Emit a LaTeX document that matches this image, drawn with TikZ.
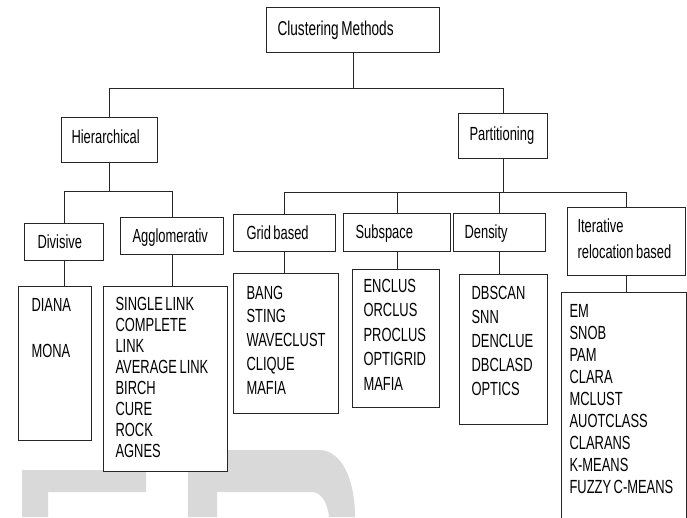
\documentclass[tikz,border=0pt]{standalone}
\usepackage{fontspec}
\setmainfont{Liberation Sans}[FakeStretch=0.68, WordSpace=0.7]
\usetikzlibrary{positioning,calc}

\begin{document}
\begin{tikzpicture}[
    x=1pt, y=-1pt,
    methodbox/.style={draw=black!85, line width=1.1pt, fill=white, anchor=north west, align=flush left, inner ysep=0pt, text=black, font={\fontsize{19}{23}\selectfont\hyphenpenalty10000 \exhyphenpenalty10000 }},
    listbox/.style={methodbox},
    link/.style={draw=black!85, line width=1.1pt},
    wmark/.style={fill=black!15},
]
\useasboundingbox (0,0) rectangle (687,517);
\clip (0,0) rectangle (687,517);

% Watermark letters
\fill[wmark] (22,470) -- (146,470) -- (146,492) -- (48,492) -- (48,517) -- (22,517) -- cycle;
\fill[wmark] (188,517) -- (188,450) -- (320,450) .. controls (342,451) and (355,480) .. (355,517) -- (329,517) .. controls (328,505) and (322,492) .. (312,492) -- (217,492) -- (217,517) -- cycle;

% Root
\node[methodbox, font={\fontsize{20}{23}\selectfont}, inner xsep=11pt, text width=151pt, text height=28pt, text depth=17pt] (clustering) at (266,7) {Clustering Methods};

% Second level
\node[methodbox, inner xsep=10pt, text width=76pt, text height=26pt, text depth=19pt] (hier) at (61,117) {Hierarchical};
\node[methodbox, inner xsep=11pt, text width=67pt, text height=27pt, text depth=18pt] (part) at (458,113) {Partitioning};

% Third level
\node[methodbox, inner xsep=13pt, text width=53pt, text height=25pt, text depth=12pt] (div) at (24,223) {Divisive};
\node[methodbox, inner xsep=12pt, text width=79pt, text height=25pt, text depth=12pt] (agg) at (120,217) {Agglomerativ};
\node[methodbox, inner xsep=13pt, text width=76pt, text height=25pt, text depth=12pt] (grid) at (233,214) {Grid based};
\node[methodbox, inner xsep=12pt, text width=83pt, text height=25pt, text depth=13pt] (sub) at (343,213) {Subspace};
\node[methodbox, inner xsep=11pt, text width=70pt, text height=25pt, text depth=13pt] (den) at (453,213) {Density};
\node[methodbox, font={\fontsize{19}{26}\selectfont}, inner xsep=10pt, text width=98pt, text height=25pt, text depth=43pt] (iter) at (567,207) {Iterative\\relocation based};

% Algorithm lists
\node[listbox, font={\fontsize{19}{23}\selectfont}, inner xsep=13pt, text width=47pt, text height=24.5pt, text depth=129.5pt] (diana) at (18,286) {DIANA\\[23pt]MONA};
\node[listbox, font={\fontsize{19}{21}\selectfont}, inner xsep=12pt, text width=100pt, text height=24pt, text depth=161pt] (agglist) at (103,286) {SINGLE LINK\\COMPLETE\\LINK\\AVERAGE LINK\\BIRCH\\CURE\\ROCK\\AGNES};
\node[listbox, font={\fontsize{19}{23.75}\selectfont}, inner xsep=13pt, text width=79pt, text height=25.5pt, text depth=114.5pt] (gridlist) at (233,273) {BANG\\STING\\WAVECLUST\\CLIQUE\\MAFIA};
\node[listbox, font={\fontsize{19}{24.5}\selectfont}, inner xsep=11pt, text width=65pt, text height=22.5pt, text depth=115.5pt] (sublist) at (352,269) {ENCLUS\\ORCLUS\\PROCLUS\\OPTIGRID\\MAFIA};
\node[listbox, font={\fontsize{19}{24}\selectfont}, inner xsep=12pt, text width=64pt, text height=24.5pt, text depth=125.5pt] (denlist) at (459,274) {DBSCAN\\SNN\\DENCLUE\\DBCLASD\\OPTICS};
\node[listbox, font={\fontsize{19}{22}\selectfont}, inner xsep=8pt, text width=109pt, text height=24.5pt, text depth=223.5pt] (emlist) at (561,292) {EM\\SNOB\\PAM\\CLARA\\MCLUST\\AUOTCLASS\\CLARANS\\K-MEANS\\FUZZY C-MEANS};

% Tree connectors
\draw[link] (clustering.south) -- ++(0,35) -| (hier.north);
\draw[link] (clustering.south) -- ++(0,35) -| (part.north);
\draw[link] (hier.south) -- ++(0,28) -| (div.north);
\draw[link] (hier.south) -- ++(0,28) -| (agg.north);
\foreach \n in {grid,sub,den,iter}
    \draw[link] (part.south) -- ++(0,33) -| (\n.north);

% Method to list
\foreach \a/\b in {div/diana, agg/agglist, grid/gridlist, sub/sublist, den/denlist, iter/emlist}
    \draw[link] (\a.south) -- (\a.south |- \b.north);

\end{tikzpicture}
\end{document}
